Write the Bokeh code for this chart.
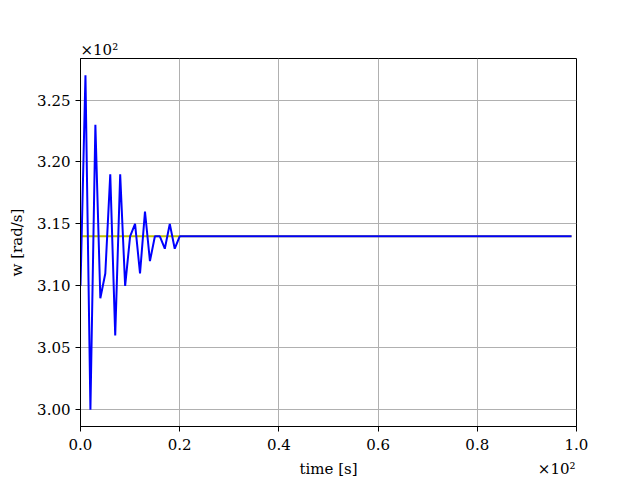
from bokeh.plotting import figure
from bokeh.models import Range1d, FixedTicker, Title, LinearAxis
from bokeh.embed import file_html
from bokeh.resources import INLINE

# ---- data (values in rad/s, time in s) ----
time = list(range(100))
w_transient = [310, 327, 300, 323, 309, 311, 319, 306, 319, 310,
               314, 315, 311, 316, 312, 314, 314, 313, 315, 313]
w = w_transient + [314] * (len(time) - len(w_transient))
w_ref = [314] * len(time)

x_ticks = [0, 20, 40, 60, 80, 100]
x_tick_labels = ["0.0", "0.2", "0.4", "0.6", "0.8", "1.0"]
y_ticks = [300, 305, 310, 315, 320, 325]
y_tick_labels = ["3.00", "3.05", "3.10", "3.15", "3.20", "3.25"]

FONT = "DejaVu Serif"
FS = "15px"

ymin, ymax = min(w), max(w)
pad = 0.05 * (ymax - ymin)
y0, y1 = ymin - pad, ymax + pad

p = figure(width=640, height=480, output_backend="svg", toolbar_location=None,
           x_range=Range1d(0, 100), y_range=Range1d(y0, y1))
p.min_border_left = 80
p.min_border_right = 64
p.min_border_top = 58
p.min_border_bottom = 54
p.background_fill_color = "white"
p.border_fill_color = "white"
p.outline_line_color = "black"
p.outline_line_width = 1

p.line(time, w_ref, line_color="#bfbf00", line_width=2)
p.line(time, w, line_color="blue", line_width=2)

for ax in (p.xaxis, p.yaxis):
    ax.major_label_text_font = FONT
    ax.major_label_text_font_size = FS
    ax.major_label_text_color = "black"
    ax.axis_label_text_font = FONT
    ax.axis_label_text_font_size = FS
    ax.axis_label_text_font_style = "normal"
    ax.axis_label_text_color = "black"
    ax.major_tick_in = 0
    ax.major_tick_out = 5
    ax.minor_tick_in = 0
    ax.minor_tick_out = 0
    ax.axis_line_color = "black"
    ax.major_tick_line_color = "black"

p.xaxis.ticker = FixedTicker(ticks=x_ticks)
p.xaxis.major_label_overrides = dict(zip(x_ticks, x_tick_labels))
p.xaxis.major_label_standoff = 7
p.yaxis.ticker = FixedTicker(ticks=y_ticks)
p.yaxis.major_label_overrides = dict(zip(y_ticks, y_tick_labels))
p.yaxis.major_label_standoff = 5
p.yaxis.axis_label = "w [rad/s]"
p.yaxis.axis_label_standoff = 8

p.xgrid.ticker = FixedTicker(ticks=x_ticks)
p.ygrid.ticker = FixedTicker(ticks=y_ticks)
for g in (p.xgrid, p.ygrid):
    g.grid_line_color = "#b0b0b0"
    g.grid_line_width = 1

# second row under the x axis: axis title and offset text on one line
xrow_pos = [50, 96]
xrow_text = ["time [s]", "×10²"]
ax2 = LinearAxis(ticker=FixedTicker(ticks=xrow_pos),
                 major_label_overrides=dict(zip(xrow_pos, xrow_text)),
                 major_tick_in=0, major_tick_out=0, minor_tick_in=0, minor_tick_out=0,
                 axis_line_color=None, major_label_standoff=7,
                 major_label_text_font=FONT, major_label_text_font_size=FS,
                 major_label_text_color="black")
p.add_layout(ax2, "below")

# offset text above the y axis
t = Title(text="×10²", align="left", standoff=0, offset=0)
t.text_font = FONT
t.text_font_size = FS
t.text_font_style = "normal"
t.text_color = "black"
p.add_layout(t, "above")

open("out.html", "w").write(file_html(p, INLINE))
